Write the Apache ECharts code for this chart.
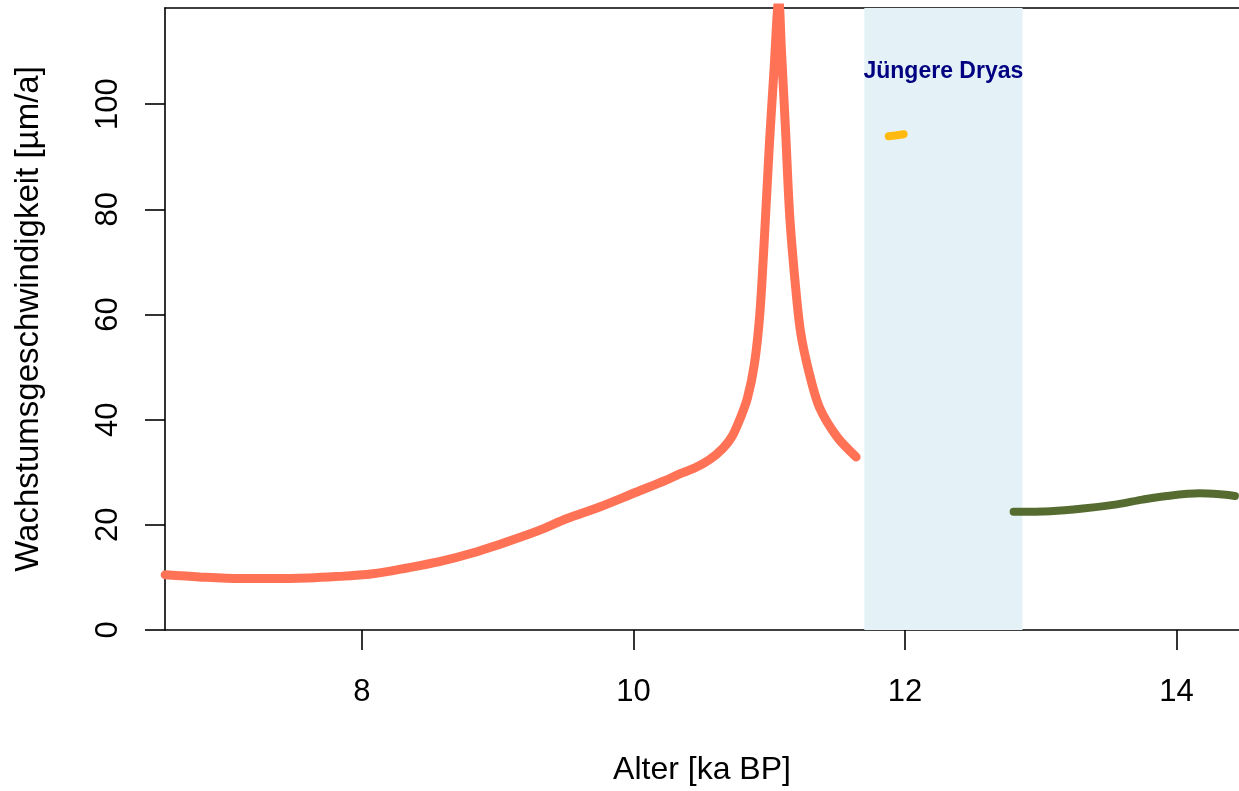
<!DOCTYPE html>
<html>
<head>
<meta charset="utf-8">
<title>Wachstumsgeschwindigkeit</title>
<script src="https://cdn.jsdelivr.net/npm/echarts@6/dist/echarts.min.js"></script>
<style>
  html, body { margin: 0; padding: 0; background: #fff; }
  #chart { width: 1239px; height: 791px; }
</style>
</head>
<body>
<div id="chart"></div>
<script>
// Werte
var redAge = [6.55, 6.8, 7.1, 7.47, 7.84, 8.08, 8.33, 8.57, 8.82, 9.07, 9.3, 9.51, 9.75, 10.0, 10.24, 10.34, 10.45, 10.56, 10.66, 10.73, 10.79, 10.84, 10.89, 10.93, 10.965, 11.0, 11.035, 11.07, 11.09, 11.12, 11.15, 11.19, 11.23, 11.29, 11.37, 11.5, 11.64];
var redRate = [10.5, 10.1, 9.8, 9.8, 10.2, 10.7, 11.8, 13.0, 14.7, 16.8, 18.9, 21.2, 23.4, 26.0, 28.5, 29.7, 30.8, 32.4, 34.6, 37.0, 40.5, 44.2, 50.5, 60.0, 75.0, 92.0, 106.5, 120, 110, 95, 79, 66.3, 56.8, 49.3, 42.3, 36.7, 32.9];

var yellowAge = [11.88, 11.94, 11.99];
var yellowRate = [93.9, 94.1, 94.3];

var greenAge = [12.8, 13.07, 13.31, 13.56, 13.75, 13.93, 14.17, 14.32, 14.43];
var greenRate = [22.5, 22.6, 23.1, 23.9, 24.8, 25.5, 26.0, 25.8, 25.5];

var dryasRange = [11.7, 12.865];
var dryasLabel = 'Jüngere Dryas';

var xTicks = [8, 10, 12, 14];
var yTicks = [0, 20, 40, 60, 80, 100];

var xMin = 6.549, xMax = 14.46;
var yMin = 0, yMax = 118.3;

function pairs(xs, ys) {
  return xs.map(function (x, i) { return [x, ys[i]]; });
}

var font = 'Liberation Sans, Arial, sans-serif';
var chart = echarts.init(document.getElementById('chart'), null, { renderer: 'canvas' });

var option = {
  animation: false,
  backgroundColor: '#ffffff',
  grid: { left: 165, top: 8, right: 0, bottom: 157 },
  xAxis: [
    {
      type: 'value',
      min: xMin,
      max: xMax,
      position: 'bottom',
      name: 'Alter [ka BP]',
      nameLocation: 'middle',
      nameGap: 124,
      nameTextStyle: { fontFamily: font, fontSize: 32, color: '#000' },
      splitLine: { show: false },
      axisLine: { show: true, lineStyle: { color: '#000', width: 1.6 } },
      axisTick: { show: true, length: 20, customValues: xTicks, lineStyle: { color: '#000', width: 1.6 } },
      axisLabel: { customValues: xTicks, margin: 47, fontFamily: font, fontSize: 31, color: '#000' }
    },
    {
      // obere Rahmenlinie
      type: 'value',
      min: xMin,
      max: xMax,
      position: 'top',
      splitLine: { show: false },
      axisLine: { show: true, lineStyle: { color: '#000', width: 1.6 } },
      axisTick: { show: false },
      axisLabel: { show: false }
    }
  ],
  yAxis: {
    type: 'value',
    min: yMin,
    max: yMax,
    name: 'Wachstumsgeschwindigkeit [µm/a]',
    nameLocation: 'middle',
    nameRotate: 90,
    nameGap: 120,
    nameTextStyle: { fontFamily: font, fontSize: 33, color: '#000' },
    splitLine: { show: false },
    axisLine: { show: true, lineStyle: { color: '#000', width: 1.6 } },
    axisTick: { show: true, length: 20, customValues: yTicks, lineStyle: { color: '#000', width: 1.6 } },
    axisLabel: { customValues: yTicks, rotate: 90, margin: 41, fontFamily: font, fontSize: 31, color: '#000' }
  },
  series: [
    {
      name: 'dryas',
      type: 'line',
      data: [],
      z: 1,
      markArea: {
        silent: true,
        itemStyle: { color: '#e4f2f7' },
        label: {
          show: true,
          position: 'insideTop',
          distance: 52,
          fontFamily: font,
          fontSize: 23,
          fontWeight: 'bold',
          color: '#000080'
        },
        data: [[{ name: dryasLabel, xAxis: dryasRange[0] }, { xAxis: dryasRange[1] }]]
      }
    },
    {
      name: 'rot',
      type: 'line',
      z: 3,
      data: pairs(redAge, redRate),
      showSymbol: false,
      smooth: 0.3,
      clip: true,
      lineStyle: { color: '#ff7256', width: 9, cap: 'round', join: 'round' }
    },
    {
      name: 'gelb',
      type: 'line',
      z: 3,
      data: pairs(yellowAge, yellowRate),
      showSymbol: false,
      lineStyle: { color: '#ffb90f', width: 8, cap: 'round', join: 'round' }
    },
    {
      name: 'gruen',
      type: 'line',
      z: 3,
      data: pairs(greenAge, greenRate),
      showSymbol: false,
      smooth: 0.3,
      lineStyle: { color: '#556b2f', width: 8, cap: 'round', join: 'round' }
    }
  ]
};

chart.setOption(option);
</script>
</body>
</html>
